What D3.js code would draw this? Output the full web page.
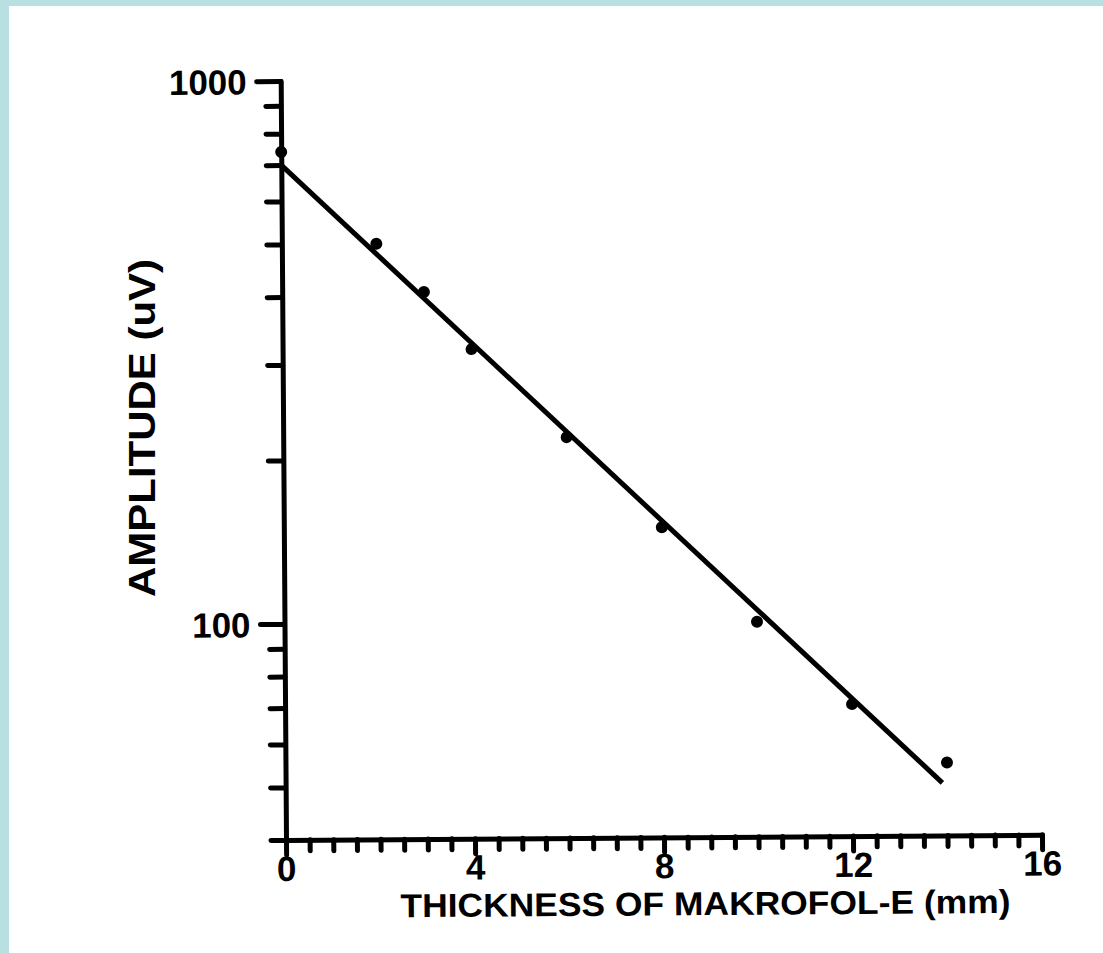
<!DOCTYPE html>
<html>
<head>
<meta charset="utf-8">
<script src="https://cdn.jsdelivr.net/npm/d3@7"></script>
<style>
  body { margin: 0; background: #b8e0e2; }
  svg { display: block; }
</style>
</head>
<body>
<div id="graph"></div>
<script>
// measured points (thickness in mm, amplitude in uV)
let thickness = [0, 2, 3, 4, 6, 8, 10, 12, 14];
let amplitude = [740, 500, 407, 319, 219, 149, 99.5, 70, 54.5];

// fitted straight line on the log plot
let fitThickness = [0, 13.9];
let fitAmplitude = [700, 50];

let xMajorTicks = [0, 4, 8, 12, 16];
let yMajorTicks = [100, 1000];

let width = 1103, height = 953;

let svg = d3.select("#graph")
    .append("svg")
    .attr("width", width)
    .attr("height", height);

// white paper with the blue edge showing top and left
svg.append("rect")
    .attr("x", 9).attr("y", 6)
    .attr("width", width - 9).attr("height", height - 6)
    .attr("fill", "#ffffff");

let x = d3.scaleLinear()
    .domain([0, 16])
    .range([286, 1042]);

let y = d3.scaleLog()
    .domain([40, 1000])
    .range([840, 81]);

// scanned page is a little tilted
let plot = svg.append("g")
    .attr("transform", "rotate(-0.4, 286, 840)");

let yMinor = [];
[10, 100].forEach(p => {
    for (let k = 1; k <= 9; k++) {
        let v = k * p;
        if (v >= 40 && v <= 1000 && v !== 100 && v !== 1000) yMinor.push(v);
    }
});
let xMinor = d3.range(0, 16.01, 0.5).filter(d => d % 4 !== 0);

let axisStyle = g => {
    g.selectAll("path, line")
        .attr("stroke", "#000")
        .attr("stroke-width", 5)
        .attr("stroke-linecap", "round");
    g.selectAll("text")
        .attr("fill", "#000")
        .style("font-family", "'Liberation Sans', Arial, sans-serif")
        .style("font-weight", "bold")
        .style("font-size", "35px");
};

plot.append("g")
    .attr("transform", `translate(${x(0)},0)`)
    .call(d3.axisLeft(y).tickValues(yMinor).tickSize(15).tickSizeOuter(0).tickFormat(""))
    .call(axisStyle);

plot.append("g")
    .attr("transform", `translate(${x(0)},0)`)
    .call(d3.axisLeft(y).tickValues(yMajorTicks).tickSize(24).tickSizeOuter(0)
        .tickPadding(10).tickFormat(d3.format("d")))
    .call(axisStyle)
    .call(g => g.select(".domain").remove())
    .selectAll("text").attr("dy", "0.36em");

plot.append("g")
    .attr("transform", `translate(0,${y(40)})`)
    .call(d3.axisBottom(x).tickValues(xMinor).tickSize(11).tickSizeOuter(0).tickFormat(""))
    .call(axisStyle);

plot.append("g")
    .attr("transform", `translate(0,${y(40)})`)
    .call(d3.axisBottom(x).tickValues(xMajorTicks).tickSize(15).tickSizeOuter(0).tickPadding(1))
    .call(axisStyle)
    .call(g => g.select(".domain").remove());

let fit = fitThickness.map((t, i) => [t, fitAmplitude[i]]);
plot.append("path")
    .datum(fit)
    .attr("fill", "none")
    .attr("stroke", "#000")
    .attr("stroke-width", 5)
    .attr("d", d3.line().x(d => x(d[0])).y(d => y(d[1])));

plot.selectAll("circle")
    .data(thickness.map((t, i) => [t, amplitude[i]]))
    .enter()
    .append("circle")
    .attr("cx", d => x(d[0]))
    .attr("cy", d => y(d[1]))
    .attr("r", 6)
    .attr("fill", "#000");

plot.append("text")
    .attr("x", 705)
    .attr("y", 918)
    .attr("text-anchor", "middle")
    .attr("textLength", 610)
    .attr("lengthAdjust", "spacingAndGlyphs")
    .style("font-family", "'Liberation Sans', Arial, sans-serif")
    .style("font-weight", "bold")
    .style("font-size", "33px")
    .text("THICKNESS  OF  MAKROFOL-E  (mm)");

svg.append("text")
    .attr("transform", `translate(${155}, ${428}) rotate(-90)`)
    .attr("text-anchor", "middle")
    .attr("textLength", 338)
    .attr("lengthAdjust", "spacingAndGlyphs")
    .style("font-family", "'Liberation Sans', Arial, sans-serif")
    .style("font-weight", "bold")
    .style("font-size", "36px")
    .text("AMPLITUDE  (uV)");
</script>
</body>
</html>
